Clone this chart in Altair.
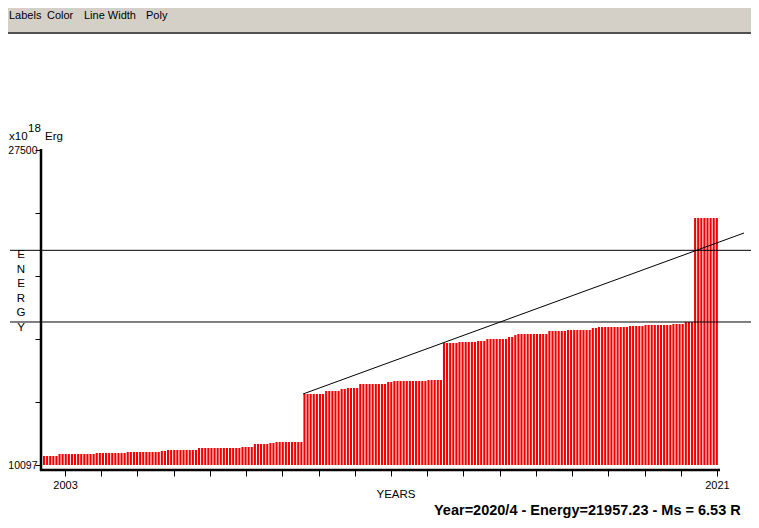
import altair as alt
import pandas as pd

# ---- data (energy in x10^18 erg) ----
step_values = [10594, 10705, 10760, 10815, 10870, 10926, 11036, 11092, 11257, 11313, 11368,
               14020, 14186, 14296, 14351, 14572, 14683, 14738, 14793,
               16838, 16893, 16948, 17059, 17169, 17280, 17335, 17501, 17556, 17666, 17722,
               17777, 17832, 17887, 17998, 23744]
step_bar_counts = [5, 12, 10, 11, 2, 10, 14, 4, 5, 2, 9,
                   7, 5, 2, 4, 9, 2, 11, 5,
                   5, 6, 3, 7, 2, 1, 10, 6, 8, 2, 10,
                   5, 9, 4, 3, 8]
first_bar_year = 2002.392
bar_step_years = 0.0856
bar_width_years = 0.058

year_ticks = list(range(2003, 2022))
energy_ticks = [10097, 13577.6, 17058.2, 20538.8, 24019.4, 27500]
reference_levels = [21957.23, 17998]
trend_years = [2009.571, 2021.746]
trend_energy = [14020, 22915]

menu_items = ["Labels", "Color", "Line Width", "Poly"]
status_text = "Year=2020/4 - Energy=21957.23 - Ms = 6.53 R"

# ---- tables ----
rows = []
i = 0
for v, n in zip(step_values, step_bar_counts):
    for _ in range(n):
        start = first_bar_year + i * bar_step_years
        rows.append({"year": start, "year_end": start + bar_width_years, "energy": v, "base": 10097})
        i += 1
bars_df = pd.DataFrame(rows)
levels_df = pd.DataFrame({"level": reference_levels})
trend_df = pd.DataFrame({"year": trend_years, "energy": trend_energy})
one = pd.DataFrame({"a": [0]})

FONT = "Liberation Sans"
xs = alt.Scale(domain=[2002.337, 2021.084], nice=False, zero=False)
ys = alt.Scale(domain=[10097, 27500], nice=False, zero=False)
x_axis = alt.Axis(values=year_ticks, offset=5, tickSize=6, tickColor="black", tickWidth=1,
                  domain=False, grid=False, labelFont=FONT, labelFontSize=11, labelColor="black",
                  labelPadding=3, labelExpr="datum.value == 2003 || datum.value == 2021 ? datum.label : ''",
                  format="d", title=None, zindex=1)
y_axis = alt.Axis(values=energy_ticks, tickSize=6, tickColor="black", tickWidth=1,
                  domain=False, grid=False, labelFont=FONT, labelFontSize=10.5, labelColor="black",
                  labelPadding=-2, format="d",
                  labelExpr="datum.value < 10100 || datum.value > 27490 ? format(datum.value, 'd') : ''",
                  title=None, zindex=1)

panel = alt.Chart(one).mark_rect(color="white", clip=False).encode(
    x=alt.value(-33), x2=alt.value(710), y=alt.value(-116), y2=alt.value(370))
panel_border = alt.Chart(one).mark_rule(color="#505050", strokeWidth=2, clip=False).encode(
    x=alt.value(-33), x2=alt.value(710), y=alt.value(-117))

bars = alt.Chart(bars_df).mark_bar(color="#f00000", clip=False).encode(
    x=alt.X("year:Q", scale=xs, axis=x_axis),
    x2="year_end:Q",
    y=alt.Y("energy:Q", scale=ys, axis=y_axis),
    y2="base:Q",
)

levels = alt.Chart(levels_df).mark_rule(color="black", strokeWidth=1, clip=False).encode(
    y=alt.Y("level:Q", scale=ys, axis=y_axis), x=alt.value(-31), x2=alt.value(710))

trend = alt.Chart(trend_df).mark_line(color="black", strokeWidth=1, clip=False).encode(
    x=alt.X("year:Q", scale=xs, axis=x_axis), y=alt.Y("energy:Q", scale=ys, axis=y_axis))

y_line = alt.Chart(one).mark_rule(color="black", strokeWidth=2.5, clip=False).encode(
    x=alt.value(0), y=alt.value(-1), y2=alt.value(321))
x_line = alt.Chart(one).mark_rule(color="black", strokeWidth=2.5, clip=False).encode(
    x=alt.value(-1), x2=alt.value(679), y=alt.value(320))

def txt(text, x, y, size=11, align="left", weight="normal"):
    return alt.Chart(one).mark_text(text=text, font=FONT, fontSize=size, align=align,
                                    baseline="middle", fontWeight=weight, color="black",
                                    clip=False).encode(x=alt.value(x), y=alt.value(y))

menu_x = [-32, 6, 43, 105]
texts = [txt(t, x, -134, 11) for t, x in zip(menu_items, menu_x)]
texts += [
    txt("x10", -32, -13, 11.5),
    txt("18", -13, -21, 11.5),
    txt("Erg", 4, -13, 11.5),
    txt("YEARS", 355, 345, 11.5, align="center"),
    txt(status_text, 393, 361, 14.5, weight="bold"),
]
energy_label = alt.Chart(one).mark_text(text="E\nN\nE\nR\nG\nY", lineBreak="\n", lineHeight=14.6,
                                        font=FONT, fontSize=11.5, align="center", baseline="top",
                                        color="black", clip=False).encode(
    x=alt.value(-20), y=alt.value(99))

chart = alt.layer(panel, panel_border, bars, levels, trend, y_line, x_line, energy_label, *texts).properties(
    width=679, height=315,
    padding={"left": 33, "top": 142, "right": 31, "bottom": 55},
    autosize=alt.AutoSizeParams(type="none"),
).configure(background="#d4d0c8").configure_view(stroke=None)

chart.save("out.html", embed_options={"renderer": "svg", "actions": False})
